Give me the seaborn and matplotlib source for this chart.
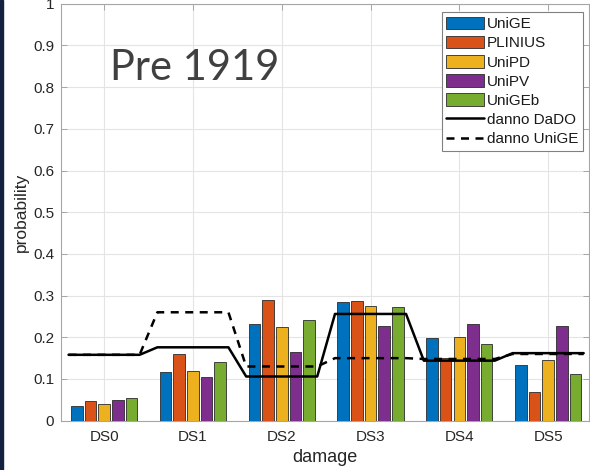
import numpy as np
import pandas as pd
import matplotlib
matplotlib.use("Agg")
import matplotlib.pyplot as plt
import seaborn as sns
from matplotlib.patches import Patch, Rectangle
from matplotlib.lines import Line2D

categories = ["DS0", "DS1", "DS2", "DS3", "DS4", "DS5"]
models = ["UniGE", "PLINIUS", "UniPD", "UniPV", "UniGEb"]
unige = [0.036, 0.117, 0.231, 0.285, 0.199, 0.134]
plinius = [0.047, 0.161, 0.290, 0.286, 0.150, 0.070]
unipd = [0.039, 0.118, 0.224, 0.275, 0.200, 0.146]
unipv = [0.049, 0.105, 0.164, 0.227, 0.231, 0.228]
unigeb = [0.054, 0.140, 0.241, 0.273, 0.185, 0.111]
danno_dado = [0.158, 0.176, 0.106, 0.256, 0.144, 0.162]
danno_unige = [0.158, 0.260, 0.130, 0.150, 0.148, 0.160]
yticks = [0, 0.1, 0.2, 0.3, 0.4, 0.5, 0.6, 0.7, 0.8, 0.9, 1]
ytick_labels = ["0", "0.1", "0.2", "0.3", "0.4", "0.5", "0.6", "0.7", "0.8", "0.9", "1"]
colors = ["#0072BD", "#D95319", "#EDB120", "#7E2F8E", "#77AC30"]

sns.set_theme(style="white")
plt.rcParams["font.family"] = ["Liberation Sans", "DejaVu Sans"]

rows = []
for m, vals in zip(models, [unige, plinius, unipd, unipv, unigeb]):
    for c, v in zip(categories, vals):
        rows.append({"damage": c, "model": m, "probability": v})
df = pd.DataFrame(rows)

fig = plt.figure(figsize=(5.9, 4.7), dpi=100)
ax = fig.add_axes([61 / 590, 49.3 / 470, 528 / 590, 417 / 470])

sns.barplot(data=df, x="damage", y="probability", hue="model", order=categories,
            hue_order=models, palette=colors, width=0.77, gap=0.15,
            edgecolor="#2b2b2b", linewidth=0.6, saturation=1, legend=False,
            errorbar=None, ax=ax, zorder=3)

idx = np.arange(len(categories))
xs = np.ravel(np.column_stack([idx - 0.4, idx + 0.4]))
ax.plot(xs, np.repeat(danno_dado, 2), color="black", lw=1.8, zorder=5)
ax.plot(xs, np.repeat(danno_unige, 2), color="black", lw=1.8,
        linestyle=(0, (3.2, 2.6)), zorder=5)

ax.set_xlim(-0.485, 5.46)
ax.set_ylim(0, 1)
ax.set_yticks(yticks)
ax.set_yticklabels(ytick_labels)
ax.grid(True, color="#e4e4e4", lw=0.8, zorder=0)
ax.set_axisbelow(True)
for s in ax.spines.values():
    s.set_color("#a6a6a6")
    s.set_linewidth(0.8)
ax.tick_params(axis="both", direction="in", length=4, width=0.7, color="#a6a6a6",
               labelsize=11, labelcolor="#262626", top=True, right=True,
               left=True, bottom=True, pad=5)
ax.tick_params(axis="x", pad=7)
ax.set_xlabel("damage", fontsize=13, color="#262626", labelpad=3)
ax.set_ylabel("probability", fontsize=12.5, color="#262626", labelpad=3)

ax.text(0.093, 0.817, "Pre 1919", transform=ax.transAxes, fontsize=30,
        family=["Lato", "DejaVu Sans"], color="#404040", va="baseline", ha="left")

handles = [Patch(facecolor=c, edgecolor="#2b2b2b", linewidth=0.6) for c in colors]
handles += [Line2D([], [], color="black", lw=1.8),
            Line2D([], [], color="black", lw=1.8, linestyle=(0, (3.2, 2.6)))]
leg = ax.legend(handles, models + ["danno DaDO", "danno UniGE"], loc="upper right",
                bbox_to_anchor=(0.988, 0.98), fontsize=11, frameon=True,
                fancybox=False, framealpha=1, edgecolor="#808080",
                handlelength=2.45, handleheight=0.9, labelspacing=0.3,
                handletextpad=0.2, borderpad=0.3, borderaxespad=0)
leg.get_frame().set_linewidth(0.8)
for t in leg.get_texts():
    t.set_color("#1a1a1a")

fig.patches.append(Rectangle((0, 0), 2.5 / 590, 1, transform=fig.transFigure,
                             color="#14203f", zorder=10))

fig.savefig("out.png", dpi=100)
